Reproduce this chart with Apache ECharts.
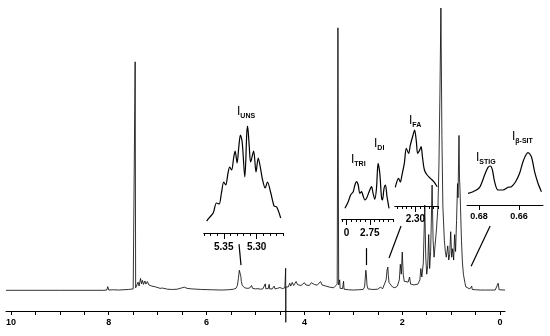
<!DOCTYPE html>
<html>
<head>
<meta charset="UTF-8">
<script src="https://cdn.jsdelivr.net/npm/echarts@6/dist/echarts.min.js"></script>
<style>
  body { margin: 0; background: #fff; }
  #chart { width: 550px; height: 336px; }
</style>
</head>
<body>
<div id="chart"></div>
<script>
// full 1H spectrum, [ppm, intensity]
const spectrum = [
  [10.1,0.3],[9.0,0.3],[8.1,0.3],[8.04,0.4],[8.02,1.6],[8.0,0.4],[7.9,0.5],[7.8,0.4],[7.6,0.6],[7.5,0.8],
  [7.47,1.0],[7.46,81],[7.45,1.2],[7.42,1.5],[7.40,3.2],[7.38,1.8],[7.35,4.5],[7.33,2.6],[7.31,3.8],[7.29,2.4],
  [7.26,3.6],[7.24,2.5],[7.21,3.4],[7.18,2.2],[7.15,2.9],[7.12,1.8],[7.08,2.4],[7.04,1.5],[7.0,1.6],[6.95,1.0],
  [6.9,1.1],[6.8,0.7],[6.7,0.6],[6.6,0.7],[6.5,1.2],[6.45,1.4],[6.4,1.0],[6.3,0.8],[6.1,0.6],[5.9,0.5],
  [5.7,0.4],[5.55,0.5],[5.45,0.7],[5.4,1.0],[5.37,2],[5.35,4.5],[5.34,6],[5.33,7.4],[5.32,8.1],[5.31,7.2],
  [5.30,5.2],[5.29,3.5],[5.27,2],[5.25,1.3],[5.22,1.2],[5.18,1.8],[5.17,1.0],[5.12,1.1],[5.08,2.0],[5.06,1.0],
  [5.0,0.8],[4.95,0.9],[4.9,0.7],[4.85,0.8],[4.8,2.6],[4.79,0.9],[4.74,0.9],[4.72,2.4],[4.71,0.8],[4.66,0.8],
  [4.62,1.8],[4.6,0.8],[4.55,1.0],[4.5,1.3],[4.45,0.9],[4.40,1.2],[4.383,8.1],[4.381,-11],[4.379,1.5],[4.35,2.2],
  [4.33,1.5],[4.30,2.8],[4.28,1.8],[4.25,3.1],[4.22,2.0],[4.2,2.6],[4.17,3.4],[4.14,2.3],[4.1,2.9],[4.07,2.0],
  [4.04,2.6],[4.0,3.0],[3.97,2.2],[3.93,2.7],[3.9,2.0],[3.86,3.0],[3.83,3.6],[3.8,2.4],[3.77,2.9],[3.74,2.1],
  [3.7,2.6],[3.67,3.4],[3.64,2.2],[3.6,2.5],[3.56,1.8],[3.52,2.2],[3.48,1.4],[3.44,1.6],[3.40,1.2],[3.36,1.5],
  [3.33,2.5],[3.315,93],[3.30,2.2],[3.28,4],[3.27,1.0],[3.22,0.9],[3.2,3.5],[3.19,0.7],[3.1,0.5],[3.0,0.4],
  [2.9,0.5],[2.8,0.6],[2.77,1.5],[2.755,5],[2.745,7.4],[2.735,6],[2.72,2],[2.7,0.8],[2.6,0.6],[2.5,0.7],
  [2.45,1.4],[2.40,0.9],[2.36,1.2],[2.33,4],[2.31,7.5],[2.295,8.5],[2.285,5.5],[2.27,3],[2.24,2.5],[2.2,1.5],
  [2.15,1.2],[2.1,1.8],[2.06,4],[2.04,9.5],[2.02,6],[2.00,13.8],[1.98,6],[1.96,3.5],[1.92,2.8],[1.88,3.2],
  [1.85,5],[1.83,2.5],[1.8,2.8],[1.76,2.2],[1.72,2.0],[1.68,2.5],[1.64,4],[1.62,8],[1.60,5],[1.57,10],
  [1.54,30.4],[1.52,12],[1.50,6],[1.48,9],[1.46,20],[1.44,8],[1.42,14],[1.39,37.5],[1.37,18],[1.35,12],
  [1.33,16],[1.30,22],[1.27,30],[1.25,45],[1.23,70],[1.21,100],[1.19,55],[1.17,30],[1.14,18],[1.12,14],
  [1.10,12],[1.07,16],[1.05,11],[1.03,13],[1.01,21],[0.99,12],[0.97,15],[0.95,11],[0.93,20],[0.91,14],
  [0.89,25],[0.87,38],[0.86,33],[0.85,45],[0.84,55],[0.83,40],[0.82,36],[0.81,30],[0.79,18],[0.77,10],
  [0.75,6],[0.72,3],[0.70,1.5],[0.66,1.0],[0.62,0.8],[0.58,1.8],[0.57,0.6],[0.5,0.5],[0.4,0.4],[0.3,0.4],
  [0.2,0.4],[0.1,0.4],[0.06,0.5],[0.04,2.8],[0.02,0.5],[-0.1,0.4]
];
const mainTicks = [0,0.5,1,1.5,2,2.5,3,3.5,4,4.5,5,5.5,6,6.5,7,7.5,8,8.5,9,9.5,10];
const mainLabels = [0,2,4,6,8,10];

// olefinic region (I UNS)
const unsCurve = [
  [5.376,12],[5.371,16],[5.366,20],[5.361,30],[5.357,29],[5.3535,40],[5.350,51],[5.347,48],[5.3435,60],[5.341,66],
  [5.338,63],[5.335,75],[5.3327,82],[5.3297,70],[5.3273,85],[5.3247,98],[5.322,91],[5.318,56],[5.315,100],[5.3138,107],
  [5.3112,86],[5.3092,71],[5.3046,82],[5.301,61],[5.2976,75],[5.2945,66],[5.291,53],[5.287,45],[5.2836,51],[5.2785,40],
  [5.2735,27],[5.2695,26],[5.2635,15]
];
const unsTicks = [5.26,5.27,5.28,5.29,5.30,5.31,5.32,5.33,5.34,5.35,5.36,5.37,5.38];
const unsLabels = [5.30, 5.35];

// bis-allylic region (I TRI, I DI)
const triCurve = [
  [2.8036,10.7],[2.7966,17.3],[2.7914,24],[2.7858,27.3],[2.7822,34],[2.7785,37.3],[2.7751,34],[2.7715,25.7],[2.7678,27.3],[2.7644,23],
  [2.7607,19],[2.7571,20.7],[2.7515,27.3],[2.7464,32.3],[2.7429,25.7],[2.7393,19.7],[2.7356,30.7],[2.7322,55.7],[2.7285,45.7],[2.7249,22.3],
  [2.7227,19],[2.7193,30.7],[2.7163,34],[2.7129,22.3],[2.7086,10.7]
];
const triTicks = [2.70,2.71,2.72,2.73,2.74,2.75,2.76,2.77,2.78,2.79,2.80,2.81];
const triLabels = [2.75, 2.80];
const triLabelText = { '2.75': '2.75', '2.80': '0' };

// alpha-CH2 region (I FA)
const faCurve = [
  [2.3444,18.6],[2.3371,27.6],[2.3333,24],[2.3296,31],[2.3244,42.6],[2.32,57.6],[2.3149,52.6],[2.3111,61],[2.3051,71],[2.3016,76],
  [2.2978,64.3],[2.2949,52.6],[2.2904,56],[2.2873,59.3],[2.2844,49.3],[2.28,36],[2.274,31],[2.2667,27.6],[2.2593,24.3],[2.2518,19.3]
];
const faTicks = [2.25,2.26,2.27,2.28,2.29,2.30,2.31,2.32,2.33,2.34];
const faLabels = [2.30];

// sterol C18 methyls (I STIG, I beta-SIT)
const sitCurve = [
  [0.6855,11.7],[0.683,13.3],[0.6797,17.7],[0.6772,30],[0.6755,37.7],[0.6743,39],[0.6733,35],[0.6722,23.3],[0.6705,15],[0.668,15],
  [0.6655,17.7],[0.6638,18.3],[0.6617,23.3],[0.6597,31.7],[0.6577,45],[0.6555,52.3],[0.6538,48.3],[0.6522,33.3],[0.6505,21.7],[0.6488,13.3]
];
const sitLabels = [0.66, 0.68];

// pointer lines from inset to peak: [ppm1, int1, ppm2, int2]
const connectors = [
  [5.337,16.6,5.297,9.2],
  [2.74,15.2,2.74,9.2],
  [2.025,23,2.27,11.7],
  [0.204,23,0.593,8.8]
];

const chart = echarts.init(document.getElementById('chart'));
const font = 'Liberation Sans, Arial, sans-serif';

function insetAxis(grid, min, max, ticks, labels, len, fontSize, margin, fmt) {
  return {
    type: 'value', gridIndex: grid, min: min, max: max, inverse: true, position: 'bottom',
    axisLine: { onZero: false, lineStyle: { color: '#000', width: 1 } },
    splitLine: { show: false },
    axisTick: { customValues: ticks, length: len, lineStyle: { color: '#000' } },
    axisLabel: labels ? {
      customValues: labels, fontSize: fontSize, fontWeight: 'bold', color: '#000',
      fontFamily: font, margin: margin, formatter: fmt || (v => v.toFixed(2))
    } : { show: false }
  };
}

function hiddenY(grid, min, max) {
  return { type: 'value', gridIndex: grid, min: min, max: max, show: false, splitLine: { show: false } };
}

function curve(xi, yi, data) {
  return {
    type: 'line', xAxisIndex: xi, yAxisIndex: yi, data: data, showSymbol: false,
    smooth: 0.3, silent: true, lineStyle: { color: '#000', width: 1.2 }
  };
}

function sub(x, y, name) {
  return {
    type: 'text', x: x, y: y, silent: true,
    style: {
      text: '{i|I}{s|' + name + '}',
      rich: {
        i: { fontSize: 12, fontFamily: font, fill: '#000', lineHeight: 16, verticalAlign: 'middle' },
        s: { fontSize: 7, fontWeight: 'bold', fontFamily: font, fill: '#000', lineHeight: 16, verticalAlign: 'bottom' }
      }
    }
  };
}

chart.setOption({
  animation: false,
  backgroundColor: '#fff',
  grid: [
    { left: 6, right: 45, top: 8, bottom: 25 },
    { left: 204, top: 120, width: 79, height: 113 },
    { left: 342, top: 139, width: 51, height: 80 },
    { left: 395, top: 106, width: 43, height: 100 },
    { left: 467, top: 135, width: 76, height: 70 }
  ],
  xAxis: [
    {
      type: 'value', gridIndex: 0, min: -0.1, max: 10.1, inverse: true, position: 'bottom',
      axisLine: { onZero: false, lineStyle: { color: '#000', width: 1 } },
      splitLine: { show: false },
      axisTick: { customValues: mainTicks, length: 4, lineStyle: { color: '#000' } },
      axisLabel: { customValues: mainLabels, fontSize: 9, fontWeight: 'bold', color: '#000', fontFamily: font, margin: 7 }
    },
    insetAxis(1, 5.26, 5.38, unsTicks, null, 3),
    insetAxis(1, 5.26, 5.38, unsLabels, unsLabels, 6, 10, 9),
    insetAxis(2, 2.70, 2.81, triTicks, null, 3),
    insetAxis(2, 2.70, 2.81, triLabels, triLabels, 6, 10, 9, v => triLabelText[v.toFixed(2)]),
    insetAxis(3, 2.25, 2.345, faTicks, null, 3),
    insetAxis(3, 2.25, 2.345, faLabels, faLabels, 6, 10, 8),
    insetAxis(4, 0.648, 0.686, sitLabels, sitLabels, 5, 9, 7)
  ],
  yAxis: [
    hiddenY(0, -7, 100),
    hiddenY(1, 0, 113),
    hiddenY(2, 0, 80),
    hiddenY(3, 0, 100),
    hiddenY(4, 0, 70)
  ],
  series: [
    {
      type: 'line', xAxisIndex: 0, yAxisIndex: 0, data: spectrum, showSymbol: false,
      clip: false, silent: true, lineStyle: { color: '#000', width: 0.8 },
      markLine: {
        silent: true, symbol: 'none', label: { show: false },
        lineStyle: { color: '#000', width: 1.2, type: 'solid' },
        data: connectors.map(c => [{ coord: [c[0], c[1]] }, { coord: [c[2], c[3]] }])
      }
    },
    curve(1, 1, unsCurve),
    curve(3, 2, triCurve),
    curve(5, 3, faCurve),
    curve(7, 4, sitCurve)
  ],
  graphic: [
    sub(237, 104, 'UNS'),
    sub(351, 152, 'TRI'),
    sub(374, 136, 'DI'),
    sub(409, 113, 'FA'),
    sub(476, 150, 'STIG'),
    sub(512, 129, 'β-SIT')
  ]
});
</script>
</body>
</html>
